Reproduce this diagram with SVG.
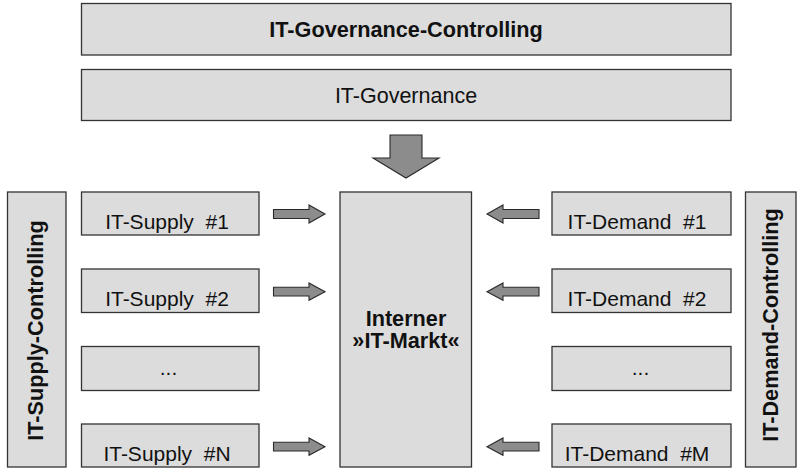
<svg xmlns="http://www.w3.org/2000/svg" width="804" height="468" viewBox="0 0 804 468">
<style>
.box{fill:#dcdcdc;stroke:#333333;stroke-width:1.3}
.arr{fill:#8c8c8c;stroke:#2a2a2a;stroke-width:1.1;stroke-linejoin:miter}
.t{font-family:"Liberation Sans",Arial,sans-serif;font-size:21px;fill:#111111;text-anchor:middle}
.b{font-weight:bold}
.s{font-size:21.7px}
</style>
<rect width="804" height="468" fill="#ffffff"/>
<g id="gov-controlling"><rect class="box" x="81.5" y="3.5" width="649.5" height="51.5"/><text class="t b s" x="406" y="37.3">IT-Governance-Controlling</text></g>
<g id="governance"><rect class="box" x="81.5" y="69.5" width="649.5" height="51"/><text class="t" x="406" y="102.7" style="font-size:21.5px">IT-Governance</text></g>
<g id="supply-controlling"><rect class="box" x="7.5" y="192" width="58.5" height="275"/><text class="t b s" transform="translate(42.7,330.5) rotate(-90)">IT-Supply-Controlling</text></g>
<g id="demand-controlling"><rect class="box" x="745.5" y="192" width="50.5" height="275"/><text class="t b s" transform="translate(778.3,325) rotate(-90)">IT-Demand-Controlling</text></g>
<g id="markt"><rect class="box" x="340" y="192" width="131.5" height="275"/><text class="t b s" x="406" y="325.7">Interner</text><text class="t b s" x="406" y="348.3">»IT-Markt«</text></g>
<g id="supply1"><rect class="box" x="81.5" y="192" width="177.5" height="43"/><text class="t" x="167" y="228.5" xml:space="preserve">IT-Supply  #1</text></g>
<g id="supply2"><rect class="box" x="81.5" y="269" width="177.5" height="43.5"/><text class="t" x="167" y="305.5" xml:space="preserve">IT-Supply  #2</text></g>
<g id="supply-dots"><rect class="box" x="81.5" y="346.5" width="177.5" height="44"/><text class="t" x="168.5" y="375">...</text></g>
<g id="supplyN"><rect class="box" x="81.5" y="424" width="177.5" height="43"/><text class="t" x="167" y="460.6" xml:space="preserve">IT-Supply  #N</text></g>
<g id="demand1"><rect class="box" x="552" y="192" width="179" height="43"/><text class="t" x="637" y="228.5" xml:space="preserve">IT-Demand  #1</text></g>
<g id="demand2"><rect class="box" x="552" y="269" width="179" height="43.5"/><text class="t" x="637" y="305.5" xml:space="preserve">IT-Demand  #2</text></g>
<g id="demand-dots"><rect class="box" x="552" y="346.5" width="179" height="44"/><text class="t" x="640.5" y="375">...</text></g>
<g id="demandM"><rect class="box" x="552" y="424" width="179" height="43"/><text class="t" x="637" y="460.6" xml:space="preserve">IT-Demand  #M</text></g>
<g id="connectors">
<path class="arr" d="M390,135 H422 V158 H439 L406,178 L373,158 H390 Z"/>
<path class="arr" d="M273.5,209.5 H309 V205 L325,214 L309,223 V218.5 H273.5 Z"/>
<path class="arr" d="M273.5,287.3 H309 V283 L325,291.7 L309,300.3 V296 H273.5 Z"/>
<path class="arr" d="M273.5,442.3 H309 V438 L325,446.7 L309,455.3 V451 H273.5 Z"/>
<path class="arr" d="M539,209.5 H503 V205 L487,214 L503,223 V218.5 H539 Z"/>
<path class="arr" d="M539,287.3 H503 V283 L487,291.7 L503,300.3 V296 H539 Z"/>
<path class="arr" d="M539,442.3 H503 V438 L487,446.7 L503,455.3 V451 H539 Z"/>
</g>
</svg>
